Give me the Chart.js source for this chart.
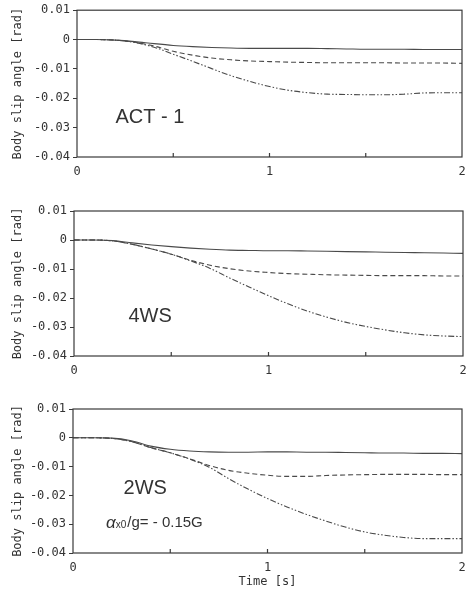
<!DOCTYPE html>
<html>
<head>
<meta charset="utf-8">
<script src="https://cdn.jsdelivr.net/npm/chart.js@4.4.0/dist/chart.umd.min.js"></script>
<style>
  body { margin: 0; background: #fff; }
  .panel { position: absolute; left: 0; width: 470px; }
</style>
</head>
<body>
<div class="panel" style="top:0px;height:182px"><canvas id="c1"></canvas></div>
<div class="panel" style="top:196px;height:185px"><canvas id="c2"></canvas></div>
<div class="panel" style="top:394px;height:205px"><canvas id="c3"></canvas></div>
<script>
// time [s]
const time = [0, 0.1, 0.2, 0.3, 0.4, 0.5, 0.6, 0.7, 0.8, 0.9, 1.0, 1.1, 1.2, 1.3, 1.4, 1.5, 1.6, 1.7, 1.8, 1.9, 2.0];

// ACT-1
const act1Solid = [0, 0, -0.0002, -0.0007, -0.0014, -0.0020, -0.0024, -0.0027, -0.0029, -0.0030, -0.0030, -0.0030, -0.0030, -0.0031, -0.0032, -0.0033, -0.0033, -0.0033, -0.0034, -0.0034, -0.0034];
const act1Dashed = [0, 0, -0.0002, -0.0009, -0.0022, -0.0040, -0.0053, -0.0063, -0.0069, -0.0073, -0.0075, -0.0077, -0.0078, -0.0079, -0.0079, -0.0079, -0.0079, -0.0080, -0.0080, -0.0080, -0.0081];
const act1DashDot = [0, 0, -0.0002, -0.0010, -0.0026, -0.0050, -0.0074, -0.0099, -0.0123, -0.0143, -0.0160, -0.0173, -0.0181, -0.0186, -0.0187, -0.0188, -0.0188, -0.0186, -0.0182, -0.0181, -0.0181];

// 4WS
const ws4Solid = [0, 0, -0.0002, -0.0010, -0.0017, -0.0023, -0.0028, -0.0032, -0.0035, -0.0036, -0.0037, -0.0037, -0.0038, -0.0039, -0.0040, -0.0041, -0.0042, -0.0043, -0.0044, -0.0045, -0.0046];
const ws4Dashed = [0, 0, -0.0003, -0.0015, -0.0031, -0.0049, -0.0070, -0.0087, -0.0099, -0.0107, -0.0112, -0.0116, -0.0118, -0.0120, -0.0121, -0.0122, -0.0123, -0.0123, -0.0123, -0.0124, -0.0124];
const ws4DashDot = [0, 0, -0.0003, -0.0015, -0.0031, -0.0049, -0.0072, -0.0098, -0.0131, -0.0162, -0.0192, -0.0220, -0.0245, -0.0266, -0.0284, -0.0298, -0.0310, -0.0320, -0.0327, -0.0331, -0.0333];

// 2WS
const ws2Solid = [0, 0, -0.0001, -0.0010, -0.0029, -0.0040, -0.0046, -0.0049, -0.0050, -0.0050, -0.0049, -0.0049, -0.0050, -0.0050, -0.0051, -0.0052, -0.0053, -0.0053, -0.0054, -0.0054, -0.0055];
const ws2Dashed = [0, 0, -0.0002, -0.0013, -0.0034, -0.0052, -0.0073, -0.0096, -0.0113, -0.0123, -0.0130, -0.0134, -0.0134, -0.0131, -0.0129, -0.0128, -0.0127, -0.0127, -0.0127, -0.0128, -0.0128];
const ws2DashDot = [0, 0, -0.0002, -0.0013, -0.0034, -0.0052, -0.0074, -0.0102, -0.0142, -0.0178, -0.0211, -0.0240, -0.0266, -0.0289, -0.0310, -0.0327, -0.0338, -0.0346, -0.0350, -0.0350, -0.0350];

const yTicks = [0.01, 0, -0.01, -0.02, -0.03, -0.04];
const xTicks = [0, 1, 2];
const xMinorTicks = [0.5, 1, 1.5];

const ink = '#3a3a3a';
const monoFont = "'DejaVu Sans Mono', monospace";

function pts(ys) {
  return time.map((t, i) => ({ x: t, y: ys[i] }));
}

// frame, inward ticks and panel texts
const framePlugin = {
  id: 'frame',
  afterDraw(chart, args, opts) {
    const ctx = chart.ctx;
    const a = chart.chartArea;
    const xs = chart.scales.x, ys = chart.scales.y;
    ctx.save();
    ctx.strokeStyle = ink;
    ctx.lineWidth = 1.2;
    ctx.strokeRect(a.left, a.top, a.right - a.left, a.bottom - a.top);
    ctx.beginPath();
    xMinorTicks.forEach(v => {
      const px = xs.getPixelForValue(v);
      ctx.moveTo(px, a.bottom);
      ctx.lineTo(px, a.bottom - 4);
    });
    ctx.stroke();
    ctx.fillStyle = '#333';
    ctx.textBaseline = 'middle';
    (opts.texts || []).forEach(t => {
      let x = xs.getPixelForValue(t.x);
      const y = ys.getPixelForValue(t.y);
      t.parts.forEach(p => {
        ctx.font = p.font;
        ctx.fillText(p.text, x, y + (p.dy || 0));
        x += ctx.measureText(p.text).width + (p.gap || 0);
      });
    });
    ctx.restore();
  }
};

function makeChart(id, solid, dashed, dashDot, o) {
  new Chart(document.getElementById(id), {
    type: 'line',
    data: {
      datasets: [
        { data: pts(solid), borderDash: [] },
        { data: pts(dashed), borderDash: [5, 3] },
        { data: pts(dashDot), borderDash: [6, 2, 1.5, 2, 1.5, 2] }
      ].map(d => Object.assign(d, {
        borderColor: '#4a4a4a', borderWidth: 1.1, pointRadius: 0,
        cubicInterpolationMode: 'monotone', fill: false
      }))
    },
    options: {
      responsive: true,
      maintainAspectRatio: false,
      animation: false,
      layout: { padding: { top: o.padTop, right: o.padRight, left: 0, bottom: 0 } },
      plugins: { legend: { display: false }, tooltip: { enabled: false }, frame: { texts: o.texts } },
      scales: {
        x: {
          type: 'linear', min: 0, max: 2,
          afterBuildTicks: s => { s.ticks = xTicks.map(v => ({ value: v })); },
          afterFit: s => { s.height = o.xHeight; },
          grid: { display: false, drawTicks: true, tickLength: 8 },
          border: { display: false },
          ticks: { color: '#333', font: { family: monoFont, size: 12 }, padding: 0, maxRotation: 0 },
          title: {
            display: o.xTitle, text: 'Time [s]', color: '#333',
            font: { family: monoFont, size: 12 }, padding: { top: 0, bottom: 10 }
          }
        },
        y: {
          min: -0.04, max: 0.01,
          afterBuildTicks: s => { s.ticks = yTicks.map(v => ({ value: v })); },
          afterFit: s => { s.width = o.yWidth; },
          grid: { drawOnChartArea: false, drawTicks: true, tickLength: 4, color: ink, lineWidth: 1 },
          border: { display: false },
          ticks: {
            color: '#333', font: { family: monoFont, size: 12 }, padding: 3,
            callback: v => (Math.abs(v) < 1e-9 ? '0' : (Math.round(v * 100) / 100).toFixed(2))
          },
          title: {
            display: true, text: 'Body slip angle [rad]', color: '#333',
            font: { family: monoFont, size: 12 }, padding: { top: 11, bottom: 0 }
          }
        }
      }
    },
    plugins: [framePlugin]
  });
}

const sans = "'Liberation Sans', Arial, sans-serif";

makeChart('c1', act1Solid, act1Dashed, act1DashDot, {
  padTop: 10, padRight: 8, yWidth: 77, xHeight: 25, xTitle: false,
  texts: [{ x: 0.2, y: -0.0267, parts: [{ text: 'ACT - 1', font: '20px ' + sans }] }]
});
makeChart('c2', ws4Solid, ws4Dashed, ws4DashDot, {
  padTop: 15, padRight: 7, yWidth: 74, xHeight: 25, xTitle: false,
  texts: [{ x: 0.28, y: -0.0263, parts: [{ text: '4WS', font: '20px ' + sans }] }]
});
makeChart('c3', ws2Solid, ws2Dashed, ws2DashDot, {
  padTop: 15, padRight: 8, yWidth: 73, xHeight: 46, xTitle: true,
  texts: [
    { x: 0.26, y: -0.0175, parts: [{ text: '2WS', font: '20px ' + sans }] },
    { x: 0.17, y: -0.0297, parts: [
      { text: 'α', font: 'italic 17px ' + sans, gap: 0 },
      { text: 'x0', font: '10px ' + sans, dy: 2, gap: 1 },
      { text: '/g= - 0.15G', font: '15px ' + sans }
    ] }
  ]
});
</script>
</body>
</html>
